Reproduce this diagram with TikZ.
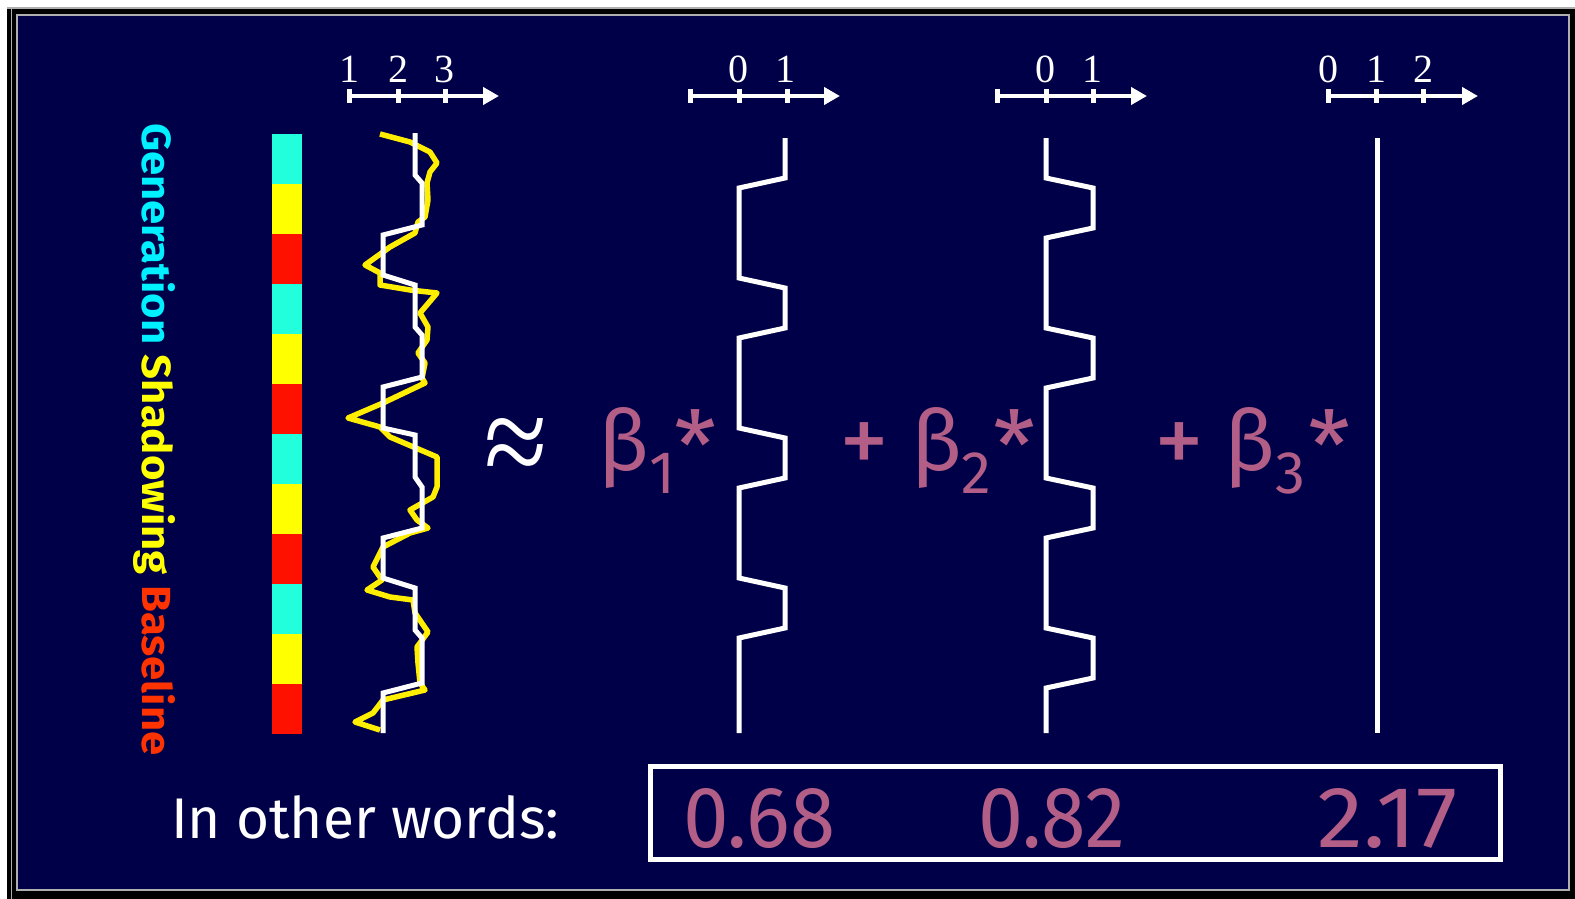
\documentclass[tikz,border=0pt]{standalone}
\usepackage{fontspec}
\setmainfont{Liberation Serif}
\newfontfamily\cf{Fira Sans}
\usetikzlibrary{arrows.meta}
\definecolor{navy}{RGB}{0,0,72}
\definecolor{cyb}{RGB}{34,255,221}
\definecolor{yeb}{RGB}{255,255,0}
\definecolor{rdb}{RGB}{255,17,0}
\definecolor{gen}{RGB}{0,240,255}
\definecolor{shad}{RGB}{255,255,0}
\definecolor{basec}{RGB}{255,51,0}
\definecolor{mauve}{RGB}{178,94,134}
\definecolor{dataye}{RGB}{255,238,0}
\definecolor{frameg}{RGB}{175,175,175}
\begin{document}
\begin{tikzpicture}[x=1pt,y=-1pt,
  wl/.style={white, line width=5pt},
  axisln/.style={white, line width=4.5pt, -{Triangle[length=16pt,width=17pt]}},
  tickmk/.style={white, line width=5pt},
  axlbl/.style={text=white, font=\fontsize{40}{40}\selectfont, anchor=base, inner sep=0pt},
  coef/.style={text=mauve, inner sep=0pt, font=\cf\fontsize{84}{84}\selectfont},
  starsign/.style={text=mauve, inner sep=0pt, anchor=north west, font=\cf\fontsize{96}{96}\selectfont},
  plussign/.style={text=mauve, inner sep=0pt, anchor=center, font=\cf\fontsize{100}{100}\selectfont},
  subs/.style={text=mauve, inner sep=0pt, anchor=base west, font=\cf\fontsize{60}{60}\selectfont},
]
\useasboundingbox (0,0) rectangle (1575,899);
% frame
\fill[white] (0,0) rectangle (1575,899);
\fill[black] (7,7) rectangle (1575,899);
\draw[frameg, line width=1.5pt] (11.5,8) -- (11.5,899);
\draw[frameg, line width=1.5pt] (7,8) -- (1575,8);
\fill[navy] (18,16) rectangle (1568,889);
\draw[frameg, line width=2pt] (17,15) rectangle (1569,890);

% axes
\draw[axisln] (349,96) -- (499,96);
\draw[tickmk] (349,89) -- (349,103) (398,89) -- (398,103) (445,89) -- (445,103);
\node[axlbl] (a1t1) at (349,82) {1};
\node[axlbl] (a1t2) at (398,82) {2};
\node[axlbl] (a1t3) at (444,82) {3};

\draw[axisln] (690,96) -- (840,96);
\draw[tickmk] (690,89) -- (690,103) (739,89) -- (739,103) (787,89) -- (787,103);
\node[axlbl] (a2t0) at (738,82) {0};
\node[axlbl] (a2t1) at (785,82) {1};

\draw[axisln] (997,96) -- (1147,96);
\draw[tickmk] (997,89) -- (997,103) (1046,89) -- (1046,103) (1093,89) -- (1093,103);
\node[axlbl] (a3t0) at (1045,82) {0};
\node[axlbl] (a3t1) at (1092,82) {1};

\draw[axisln] (1328,96) -- (1478,96);
\draw[tickmk] (1328,89) -- (1328,103) (1376,89) -- (1376,103) (1423,89) -- (1423,103);
\node[axlbl] (a4t0) at (1328,82) {0};
\node[axlbl] (a4t1) at (1376,82) {1};
\node[axlbl] (a4t2) at (1423,82) {2};

% colour bar
\foreach \c [count=\k from 0] in {cyb,yeb,rdb,cyb,yeb,rdb,cyb,yeb,rdb,cyb,yeb,rdb}
  \fill[\c] (272,{134+50*\k}) rectangle (302,{184+50*\k});

% vertical label
\node[rotate=-90, anchor=base west, inner sep=0pt] (cond) at (142,123)
  {\resizebox{632pt}{33pt}{\cf\bfseries\color{gen}Generation \color{shad}Shadowing \color{basec}Baseline}};

% data trace
\draw[dataye, line width=5.5pt, line join=round]
  (380,134) -- (410,142) -- (430,152) -- (437,163) -- (430,172) -- (427,183) -- (428,200) -- (425,217)
  -- (418,222) -- (415,233) -- (390,247) -- (365,265) -- (380,273) -- (380,285) -- (410,290) -- (437,293)
  -- (420,313) -- (428,327) -- (427,340) -- (418,353) -- (425,363) -- (422,378) -- (425,383) -- (383,403)
  -- (348,418) -- (380,427) -- (390,437) -- (437,457) -- (437,487) -- (433,497) -- (410,510) -- (417,520)
  -- (428,528) -- (410,533) -- (383,547) -- (373,567) -- (382,580) -- (367,590) -- (390,597) -- (413,600)
  -- (415,613) -- (428,632) -- (417,647) -- (418,663) -- (420,683) -- (425,690) -- (383,700) -- (373,713)
  -- (355,722) -- (380,730);
% fitted model
\draw[wl] (415,133) -- (415,175) -- (422,183) -- (422,225) -- (383,235) -- (383,275) -- (415,285)
  -- (415,327) -- (422,335) -- (422,377) -- (383,387) -- (383,428) -- (415,435) -- (415,477)
  -- (422,487) -- (422,528) -- (383,538) -- (383,578) -- (415,588) -- (415,630) -- (422,638)
  -- (422,683) -- (383,693) -- (383,733);

% regressors
\draw[wl] (785,138) -- (785,178) -- (739,188) -- (739,278) -- (785,288) -- (785,328) -- (739,338)
  -- (739,428) -- (785,438) -- (785,478) -- (739,488) -- (739,578) -- (785,588) -- (785,628)
  -- (739,638) -- (739,733);
\draw[wl] (1046,138) -- (1046,178) -- (1093,188) -- (1093,228) -- (1046,238) -- (1046,328)
  -- (1093,338) -- (1093,378) -- (1046,388) -- (1046,478) -- (1093,488) -- (1093,528)
  -- (1046,538) -- (1046,628) -- (1093,638) -- (1093,678) -- (1046,688) -- (1046,733);
\draw[wl] (1377,138) -- (1377,733);

% approx sign
\node[anchor=north, inner sep=0pt, text=white] (approx) at (516,418)
  {\scalebox{1.15}[1.3]{\fontsize{100}{100}\selectfont ≈}};

% coefficients
\node[coef, anchor=base west] (beta1) at (598,470) {β};
\node[subs] (sub1) at (649,493) {1};
\node[starsign] (star1) at (674,409) {*};

\node[plussign] (plus2) at (864,449) {+};
\node[coef, anchor=base west] (beta2) at (911,470) {β};
\node[subs] (sub2) at (961,493) {2};
\node[starsign] (star2) at (993,409) {*};

\node[plussign] (plus3) at (1179,449) {+};
\node[coef, anchor=base west] (beta3) at (1224,470) {β};
\node[subs] (sub3) at (1275,493) {3};
\node[starsign] (star3) at (1308,409) {*};

% bottom row
\node[anchor=base west, inner sep=0pt, text=white] (iow) at (171,838)
  {\resizebox{388pt}{43pt}{\cf In other words:}};
\draw[white, line width=5pt] (650,766) rectangle (1500,859);
\node[anchor=base west, inner sep=0pt, text=mauve] (v1) at (683,847) {\resizebox{152pt}{59pt}{\cf 0.68}};
\node[anchor=base west, inner sep=0pt, text=mauve] (v2) at (978,847) {\resizebox{147pt}{59pt}{\cf 0.82}};
\node[anchor=base west, inner sep=0pt, text=mauve] (v3) at (1317,847) {\resizebox{140pt}{59pt}{\cf 2.17}};
\end{tikzpicture}
\end{document}
